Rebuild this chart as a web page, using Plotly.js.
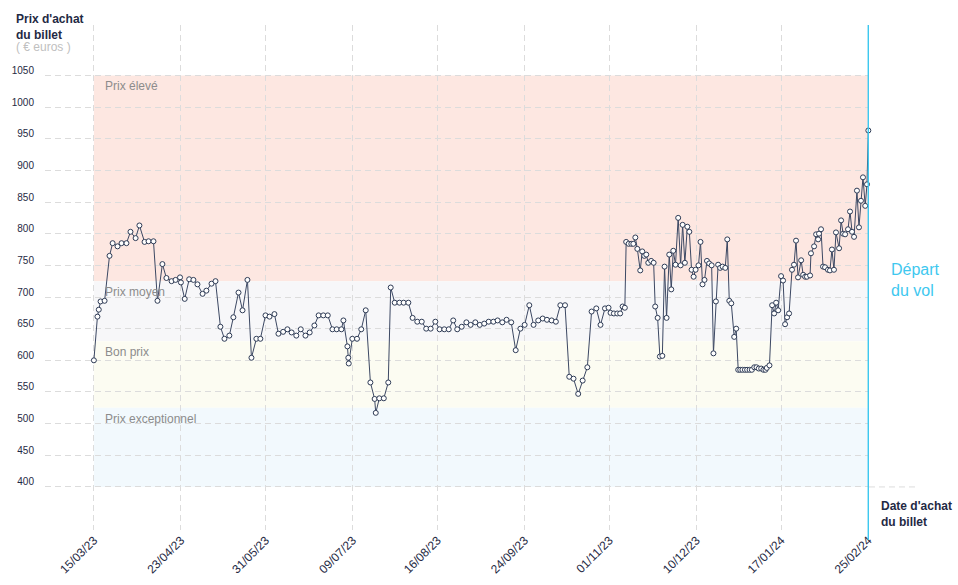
<!DOCTYPE html>
<html>
<head>
<meta charset="utf-8">
<script src="https://cdn.plot.ly/plotly-3.0.1.min.js"></script>
<style>html,body{margin:0;padding:0;background:#fff;}#chart{width:958px;height:585px;}</style>
</head>
<body>
<div id="chart"></div>
<script>
// Days since 15/03/23 (purchase date) and ticket price (€)
const days = [
0,1.6,2.2,3.0,4.8,7.0,8.4,10.6,12.4,14.6,16.4,18.7,20.4,22.7,24.5,26.7,28.5,30.7,32.5,34.8,36.6,38.6,39.0,40.7,42.7,44.6,46.4,48.7,50.4,52.7,54.5,56.7,58.5,60.7,62.5,64.8,66.6,68.8,70.6,72.8,74.6,76.9,78.7,80.9,82.7,
84.8,86.7,88.6,90.7,92.7,94.8,96.7,98.8,100.7,102.8,104.8,106.9,108.8,110.9,111.8,113.6,114.0,114.2,115.8,117.9,119.8,121.8,123.9,125.8,126.3,127.9,129.9,131.9,133.0,134.8,136.9,138.8,140.9,142.8,144.9,146.9,148.9,150.9,153.0,154.9,157.0,159.0,161.0,162.8,164.8,166.9,
168.8,170.9,172.9,174.9,176.9,179.0,180.9,183.0,184.9,187.0,189.0,191.1,193.0,195.1,197.0,199.1,201.1,203.0,205.1,207.0,209.0,211.1,213.0,214.9,217.0,219.0,221.1,223.0,225.1,227.0,229.0,230.6,231.5,233.0,234.5,235.8,236.9,237.9,
238.5,239.6,240.8,241.7,242.6,243.5,244.8,245.7,246.6,247.5,248.4,249.7,250.8,251.5,252.6,253.6,254.7,255.7,256.6,257.8,258.7,259.6,260.6,261.8,262.9,263.8,264.8,265.9,266.8,267.8,268.7,269.6,270.9,271.8,272.7,273.6,274.7,275.7,276.8,277.6,278.7,279.7,280.6,281.7,282.9,283.8,284.7,285.6,286.9,287.8,
288.7,289.6,290.6,291.7,292.7,293.8,294.8,295.9,296.9,297.9,299.0,300.0,300.9,301.5,302.7,
303.9,304.8,305.7,306.6,307.9,308.8,309.7,310.6,311.5,312.8,313.7,314.6,315.5,316.9,317.8,318.7,319.5,320.9,321.3,322.7,323.6,324.5,324.9,325.8,326.7,327.6,328.9,329.8,330.7,331.6,332.5,333.9,334.8,335.7,336.6,337.9,338.8,339.7,340.6,341.9,342.8,343.7,344.6,345.6,346.4,347
];
const prices = [
600,669,680,693,694,765,785,780,785,785,803,793,813,787,788,788,694,752,730,725,727,731,723,697,728,727,720,705,710,721,725,653,634,639,668,707,679,727,604,634,634,671,669,673,642,
645,649,644,639,649,639,644,655,671,671,671,649,649,649,663,622,604,595,634,634,649,679,565,539,517,540,540,565,715,691,691,691,691,667,661,661,650,650,661,649,649,649,663,649,653,660,
656,660,656,658,661,661,663,660,664,660,616,650,656,687,656,663,666,664,663,661,687,687,574,571,547,568,589,677,682,656,682,683,675,674,674,674,685,683,
787,784,784,784,794,776,742,772,765,767,754,757,754,685,667,606,607,748,667,767,712,773,751,825,750,814,754,811,803,743,732,743,750,787,720,727,757,753,750,611,693,751,746,748,746,791,694,690,637,650,
585,585,585,585,585,585,585,589,589,587,587,585,585,588,592,
687,674,691,679,733,726,657,668,674,743,751,789,731,758,735,732,732,734,769,780,799,791,800,807,748,747,743,742,775,743,802,777,821,800,799,807,835,803,795,868,810,852,889,844,878,963
];

const tickDays = [0,39,77,116,154,193,231,270,308,347];
const tickLabels = ['15/03/23','23/04/23','31/05/23','09/07/23','16/08/23','24/09/23','01/11/23','10/12/23','17/01/24','25/02/24'];
const yTicks = [400,450,500,550,600,650,700,750,800,850,900,950,1000,1050];

const bandNames = ['Prix élevé','Prix moyen','Bon prix','Prix exceptionnel'];
const bandTop = [1050,725,630,525];
const bandBottom = [725,630,525,400];
const bandColors = ['#fde7e1','#f7f7f9','#fcfcf2','#f2f9fd'];

const departDay = 347;
const FONT = 'Liberation Sans, Arial, sans-serif';
const NAVY = '#1f2a44';
const GRID = '#dcdcdc';

const shapes = [];
const annotations = [];
for (let i = 0; i < bandNames.length; i++) {
  shapes.push({type:'rect', xref:'x', yref:'y', x0:0, x1:departDay, y0:bandBottom[i], y1:bandTop[i],
    fillcolor:bandColors[i], line:{width:0}, layer:'below'});
  annotations.push({xref:'x', yref:'y', x:0, y:bandTop[i], text:bandNames[i], showarrow:false,
    xanchor:'left', yanchor:'middle', xshift:9, yshift:-11,
    font:{family:FONT, size:12, color:'#8c8c8c'}});
}
shapes.push({type:'line', xref:'x', yref:'paper', x0:departDay, x1:departDay, y0:-0.02, y1:1,
  line:{color:'#3ec8ef', width:1.5}});
shapes.push({type:'line', xref:'paper', yref:'y', x0:1, x1:1.06, y0:400, y1:400,
  line:{color:GRID, width:1, dash:'6px,4px'}});

annotations.push({xref:'paper', yref:'paper', x:-0.0376, y:0.997, xanchor:'left', yanchor:'middle', align:'left',
  text:"<b>Prix d'achat<br>du billet</b>", showarrow:false, font:{family:FONT, size:12, color:NAVY}});
annotations.push({xref:'paper', yref:'paper', x:-0.0376, y:0.957, xanchor:'left', yanchor:'middle', align:'left',
  text:"( € euros )", showarrow:false, font:{family:FONT, size:12, color:'#c0c0c0'}});
annotations.push({xref:'paper', yref:'paper', x:1.0246, y:0.495, xanchor:'left', yanchor:'middle', align:'left',
  text:"Départ<br>du vol", showarrow:false, font:{family:FONT, size:16, color:'#3ec8ef'}});
annotations.push({xref:'paper', yref:'paper', x:1.0125, y:0.032, xanchor:'left', yanchor:'middle', align:'left',
  text:"<b>Date d'achat<br>du billet</b>", showarrow:false, font:{family:FONT, size:12, color:NAVY}});

const trace = {
  x: days, y: prices, type:'scatter', mode:'lines+markers', cliponaxis:false,
  line:{color:'#3c4863', width:1},
  marker:{size:5, color:'#ffffff', line:{color:'#2e3b55', width:1}},
  hoverinfo:'x+y'
};

const layout = {
  width:958, height:585,
  margin:{l:45, r:89, t:25, b:55},
  paper_bgcolor:'#ffffff', plot_bgcolor:'#ffffff',
  showlegend:false,
  font:{family:FONT, size:10, color:NAVY},
  xaxis:{range:[-21.9, 347.3], tickmode:'array', tickvals:tickDays, ticktext:tickLabels, tickangle:-45,
    showgrid:true, gridcolor:GRID, griddash:'6px,4px', gridwidth:1, zeroline:false, showline:false, ticks:'',
    tickfont:{family:FONT, size:12, color:NAVY}},
  yaxis:{range:[332, 1129.6], tickmode:'array', tickvals:yTicks, showgrid:true, gridcolor:GRID, griddash:'6px,4px',
    gridwidth:1, zeroline:false, showline:false, ticks:'', ticklabelstandoff:10, ticklabelshift:-5,
    tickfont:{family:FONT, size:10, color:NAVY}},
  shapes:shapes, annotations:annotations
};

Plotly.newPlot('chart', [trace], layout, {displayModeBar:false, staticPlot:true});
</script>
</body>
</html>
